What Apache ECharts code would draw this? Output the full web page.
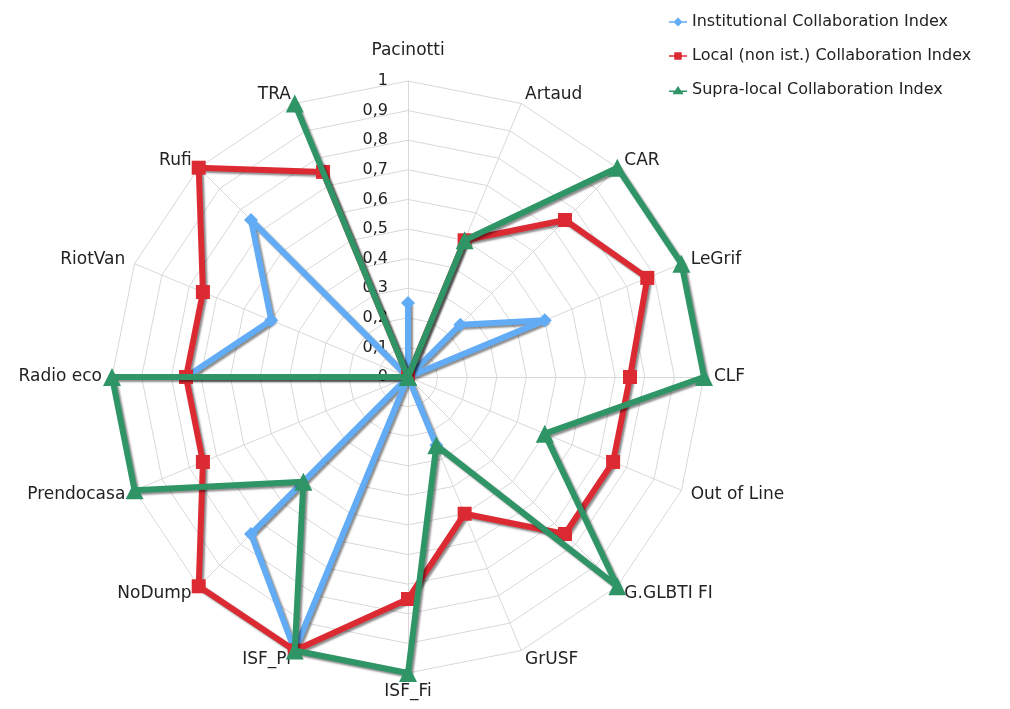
<!DOCTYPE html>
<html>
<head>
<meta charset="utf-8">
<script src="https://cdn.jsdelivr.net/npm/echarts@6/dist/echarts.min.js"></script>
<style>html,body{margin:0;padding:0;background:#fff}#c{width:1010px;height:709px}</style>
</head>
<body>
<div id="c"></div>
<script>
const categories = ['Pacinotti','Artaud','CAR','LeGrif','CLF','Out of Line','G.GLBTI FI','GrUSF','ISF_Fi','ISF_Pi','NoDump','Prendocasa','Radio eco','RiotVan','Rufi','TRA'];
const institutional = [0.25,0,0.25,0.5,0,0,0,0.25,0,1,0.75,0,0.75,0.5,0.75,0];
const local = [0,0.5,0.75,0.875,0.75,0.75,0.75,0.5,0.75,1,1,0.75,0.75,0.75,1,0.75];
const supralocal = [0,0.5,1,1,1,0.5,1,0.25,1,1,0.5,1,1,0,0,1];
const seriesNames = ['Institutional Collaboration Index','Local (non ist.) Collaboration Index','Supra-local Collaboration Index'];

const colors = ['#62abf5','#dc2a33','#2f9566'];
const font = 'DejaVu Sans';
const chart = echarts.init(document.getElementById('c'));
// ECharts radar runs counter-clockwise; reorder so categories go clockwise
const order = [0].concat(categories.map((_, i) => i).slice(1).reverse());
const reorder = arr => order.map(i => arr[i]);
const icons = [
  'path://M0,9 L7,9 L12,4 L17,9 L24,9 L24,11 L17,11 L12,16 L7,11 L0,11 Z',
  'path://M0,9 L7,9 L7,5 L17,5 L17,9 L24,9 L24,11 L17,11 L17,15 L7,15 L7,11 L0,11 Z',
  'path://M0,9 L8,9 L12,3 L16,9 L24,9 L24,11 L18,11 L19,14 L5,14 L6,11 L0,11 Z'
];
const indicator = reorder(categories).map((c, i) => {
  const o = { name: c, max: 1, min: 0 };
  if (i === 0) o.axisLabel = { show: true };
  return o;
});
const shadow = { shadowColor: 'rgba(0,0,0,0.45)', shadowBlur: 2, shadowOffsetX: 2, shadowOffsetY: 2 };
const symbols = ['diamond','rect','triangle'];
const dataSets = [institutional, local, supralocal];
chart.setOption({
  animation: false,
  legend: {
    orient: 'vertical',
    left: 664, top: 9,
    itemGap: 18,
    itemWidth: 18, itemHeight: 15,
    textStyle: { fontFamily: font, fontSize: 16, color: '#222' },
    data: seriesNames.map((n, i) => ({ name: n, icon: icons[i] }))
  },
  radar: {
    center: [408, 377],
    radius: 296,
    startAngle: 90,
    shape: 'polygon',
    splitNumber: 10,
    indicator: indicator,
    nameGap: 10,
    axisName: {
      color: '#222', fontFamily: font, fontSize: 17,
      formatter: n => n === categories[0] ? '{t|' + n + '}' : n,
      rich: { t: { color: '#222', fontFamily: font, fontSize: 17, padding: [0, 0, 12, 0] } }
    },
    axisLine: { lineStyle: { color: '#d8d8d8' } },
    splitLine: { lineStyle: { color: '#d8d8d8' } },
    splitArea: { show: false },
    axisTick: { show: false },
    axisLabel: {
      show: false,
      color: '#222', fontFamily: font, fontSize: 16, margin: 20,
      formatter: v => String(Math.round(v * 10) / 10).replace('.', ',')
    }
  },
  series: dataSets.map((d, i) => ({
    type: 'radar',
    name: seriesNames[i],
    symbol: symbols[i],
    symbolSize: i === 2 ? 18 : 14,
    z: 2 + i,
    itemStyle: { color: colors[i] },
    lineStyle: Object.assign({ color: colors[i], width: 6 }, shadow),
    data: [{ value: reorder(d), name: seriesNames[i] }]
  }))
});
</script>
</body>
</html>
